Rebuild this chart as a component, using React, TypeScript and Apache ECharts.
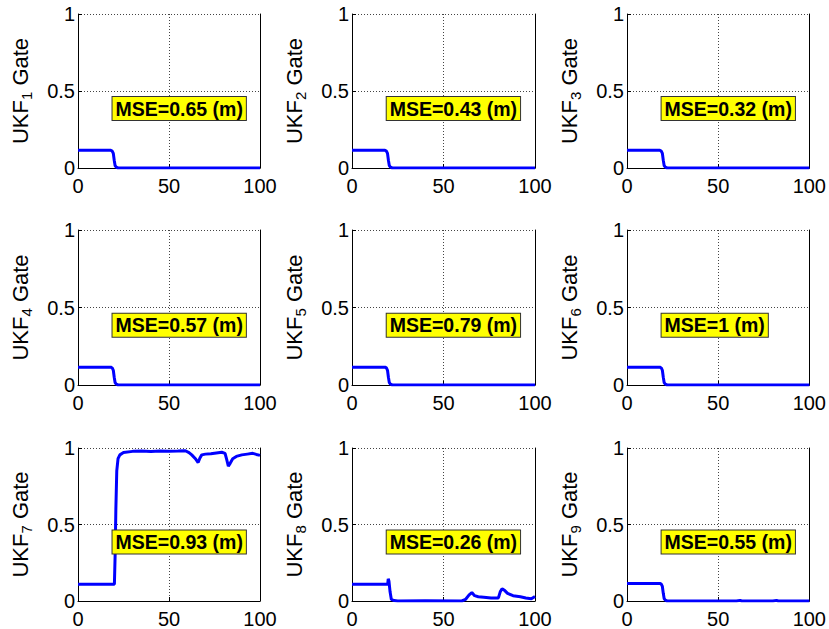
import React, { useEffect, useRef } from "react";
import * as echarts from "echarts";

// ---- data ----
const stepX = [0, 18, 18.8, 19.4, 19.9, 20.4, 21, 22, 100];
const stepY = [0.115, 0.115, 0.11, 0.095, 0.05, 0.015, 0.005, 0, 0];

const gate9X = [0, 18, 18.8, 19.4, 19.9, 20.4, 21, 22, 60, 62, 63, 80, 82, 83, 100];
const gate9Y = [0.115, 0.115, 0.11, 0.095, 0.05, 0.015, 0.005, 0, 0, 0.004, 0, 0, 0.004, 0, 0];

const gate7X = [0, 20, 20.4, 20.8, 21.3, 22, 23, 25, 30, 35, 40, 45, 50, 55, 59, 61, 62.5, 64.5, 66, 67, 68, 70, 73, 76, 79, 80.8, 81.8, 82.6, 83.6, 85, 87, 90, 93, 96, 98, 100];
const gate7Y = [0.11, 0.11, 0.3, 0.6, 0.85, 0.93, 0.955, 0.97, 0.978, 0.98, 0.977, 0.98, 0.978, 0.98, 0.982, 0.97, 0.955, 0.93, 0.905, 0.935, 0.955, 0.96, 0.963, 0.968, 0.972, 0.965, 0.92, 0.882, 0.9, 0.93, 0.945, 0.955, 0.96, 0.965, 0.958, 0.952];

const gate8X = [0, 19.5, 19.8, 20.2, 20.8, 21.5, 23, 25, 40, 60, 62, 64, 65.5, 67, 69, 72, 76, 80, 81, 82, 83.5, 85, 88, 92, 95, 98, 100];
const gate8Y = [0.11, 0.11, 0.145, 0.13, 0.06, 0.01, 0.003, 0, 0.002, 0, 0.01, 0.04, 0.055, 0.035, 0.028, 0.025, 0.02, 0.02, 0.06, 0.08, 0.068, 0.05, 0.035, 0.028, 0.02, 0.015, 0.03];

const panelX = [stepX, stepX, stepX, stepX, stepX, stepX, gate7X, gate8X, gate9X];
const panelY = [stepY, stepY, stepY, stepY, stepY, stepY, gate7Y, gate8Y, gate9Y];
const mseLabels = ["0.65", "0.43", "0.32", "0.57", "0.79", "1", "0.93", "0.26", "0.55"];
const xTicks = [0, 50, 100];
const yTicks = [0, 0.5, 1];

// ---- layout ----
const gridLeft = [78, 352, 627];
const gridWidth = [182, 183, 183];
const gridTop = [14, 230, 448];
const gridHeight = [154, 155, 155];
const FONT = "Liberation Sans";

export default function App() {
  const ref = useRef<HTMLDivElement>(null);
  useEffect(() => {
    if (!ref.current) return;
    const chart = echarts.init(ref.current, undefined, { renderer: "svg" });
    const grids: any[] = [];
    const xAxes: any[] = [];
    const yAxes: any[] = [];
    const series: any[] = [];
    for (let i = 0; i < 9; i++) {
      const r = Math.floor(i / 3);
      const c = i % 3;
      grids.push({ left: gridLeft[c], top: gridTop[r], width: gridWidth[c], height: gridHeight[r] });
      xAxes.push({
        gridIndex: i,
        type: "value",
        min: xTicks[0],
        max: xTicks[2],
        interval: 50,
        axisLine: { show: true, onZero: false, lineStyle: { color: "#000", width: 1 } },
        axisTick: { show: true, inside: true, length: 4, lineStyle: { color: "#000" } },
        axisLabel: { fontSize: 20, color: "#000", margin: 8, fontFamily: FONT },
        splitLine: { show: true, lineStyle: { type: [1, 2], color: "#444", width: 1 } },
      });
      yAxes.push({
        gridIndex: i,
        type: "value",
        min: yTicks[0],
        max: yTicks[2],
        interval: 0.5,
        position: "left",
        name: `{a|UKF}{s|${i + 1}}{a| Gate}`,
        nameLocation: "middle",
        nameGap: 44,
        nameRotate: 90,
        nameTextStyle: {
          rich: {
            a: { fontSize: 22, color: "#000", fontFamily: FONT },
            s: { fontSize: 15, color: "#000", fontFamily: FONT, padding: [12, 0, 0, 0] },
          },
        },
        axisLine: { show: true, onZero: false, lineStyle: { color: "#000", width: 1 } },
        axisTick: { show: true, inside: true, length: 4, lineStyle: { color: "#000" } },
        axisLabel: { fontSize: 20, color: "#000", margin: 3, fontFamily: FONT },
        splitLine: { show: true, lineStyle: { type: [1, 2], color: "#444", width: 1 } },
      });
      yAxes.push({
        gridIndex: i,
        type: "value",
        min: yTicks[0],
        max: yTicks[2],
        interval: 0.5,
        position: "right",
        axisLine: { show: true, onZero: false, lineStyle: { color: "#000", width: 1 } },
        axisTick: { show: false },
        axisLabel: { show: false },
        splitLine: { show: false },
      });
      const xs = panelX[i];
      const ys = panelY[i];
      series.push({
        type: "line",
        xAxisIndex: i,
        yAxisIndex: 2 * i,
        showSymbol: false,
        symbol: "none",
        lineStyle: { color: "#0000ff", width: 3 },
        data: xs.map((x, k) => [x, ys[k]]),
        markPoint: {
          symbol: "rect",
          symbolSize: 1,
          itemStyle: { color: "rgba(0,0,0,0)" },
          data: [
            {
              coord: [18.7, 0.386],
              label: {
                show: true,
                position: "right",
                distance: 0,
                formatter: `MSE=${mseLabels[i]} (m)`,
                backgroundColor: "#ffff00",
                borderColor: "#333",
                borderWidth: 1,
                padding: [2, 3, 1, 3],
                color: "#000",
                fontWeight: "bold",
                fontSize: 19.5,
                fontFamily: FONT,
              },
            },
          ],
        },
      });
    }
    chart.setOption({
      animation: false,
      backgroundColor: "#fff",
      grid: grids,
      xAxis: xAxes,
      yAxis: yAxes,
      series,
    });
    return () => chart.dispose();
  }, []);
  return (
    <div
      ref={ref}
      style={{ position: "fixed", left: 0, top: 0, width: 829, height: 629, background: "#fff" }}
    />
  );
}
